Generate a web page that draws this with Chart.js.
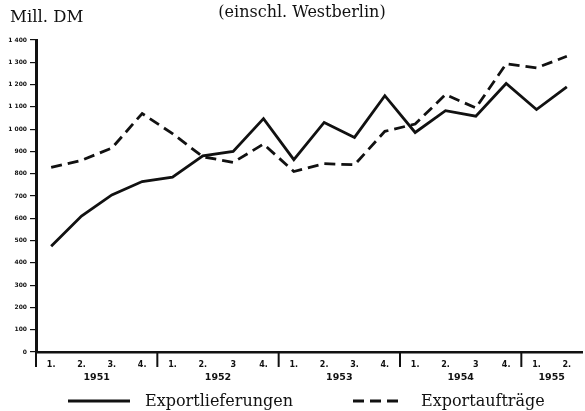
<!DOCTYPE html>
<html>
<head>
<meta charset="utf-8">
<script src="https://cdn.jsdelivr.net/npm/chart.js@4.4.0/dist/chart.umd.min.js"></script>
<style>
  html, body { margin: 0; padding: 0; background: #fff; }
  #wrap { position: relative; width: 585px; height: 411px; }
</style>
</head>
<body>
<div id="wrap"><canvas id="chart"></canvas></div>
<script>
const quarters = ['1.', '2.', '3.', '4.', '1.', '2.', '3', '4.', '1.', '2.', '3.', '4.', '1.', '2.', '3', '4.', '1.', '2.'];
const years = ['1951', '1952', '1953', '1954', '1955'];
const quartersPerYear = [4, 4, 4, 4, 2];
const exportLieferungen = [475, 610, 705, 765, 785, 880, 900, 1047, 863, 1030, 963, 1150, 985, 1083, 1058, 1205, 1088, 1190];
const exportAuftraege = [828, 860, 915, 1070, 980, 876, 851, 933, 810, 845, 840, 990, 1023, 1155, 1095, 1293, 1275, 1327];
const yMax = 1400;
const yStep = 100;

const ink = '#111';

// titles, year separators/labels and the legend row
const annotations = {
  id: 'annotations',
  afterDraw(chart) {
    const { ctx, chartArea } = chart;
    const x = chart.scales.x;
    ctx.save();
    ctx.fillStyle = ink;
    ctx.strokeStyle = ink;

    ctx.font = '16.5px "DejaVu Serif"';
    ctx.textAlign = 'left';
    ctx.textBaseline = 'alphabetic';
    ctx.fillText('Mill. DM', 10, 22);
    ctx.font = '16px "DejaVu Serif"';
    ctx.textAlign = 'center';
    ctx.fillText('(einschl. Westberlin)', 302, 17);

    const half = (x.getPixelForValue(1) - x.getPixelForValue(0)) / 2;
    let start = 0;
    ctx.lineWidth = 2;
    ctx.font = 'bold 9.5px "DejaVu Sans"';
    ctx.textBaseline = 'middle';
    years.forEach((year, i) => {
      const end = start + quartersPerYear[i] - 1;
      const left = x.getPixelForValue(start) - half;
      ctx.beginPath();
      ctx.moveTo(left, chartArea.bottom);
      ctx.lineTo(left, chartArea.bottom + 15);
      ctx.stroke();
      const mid = (x.getPixelForValue(start) + x.getPixelForValue(end)) / 2;
      ctx.fillText(year, mid, chartArea.bottom + 26);
      start = end + 1;
    });

    const legendItems = [
      { x1: 68, x2: 130, textX: 145 },
      { x1: 353, x2: 404, textX: 421 }
    ];
    ctx.font = '16px "DejaVu Serif"';
    ctx.textAlign = 'left';
    ctx.textBaseline = 'alphabetic';
    chart.data.datasets.forEach((ds, i) => {
      const item = legendItems[i];
      ctx.lineWidth = ds.borderWidth;
      ctx.setLineDash(ds.borderDash || []);
      ctx.beginPath();
      ctx.moveTo(item.x1, 401);
      ctx.lineTo(item.x2, 401);
      ctx.stroke();
      ctx.setLineDash([]);
      ctx.fillText(ds.label, item.textX, 406);
    });
    ctx.restore();
  }
};

new Chart(document.getElementById('chart'), {
  type: 'line',
  data: {
    labels: quarters,
    datasets: [{
      label: 'Exportlieferungen',
      data: exportLieferungen,
      borderColor: ink,
      borderWidth: 2.8,
      pointRadius: 0,
      tension: 0
    }, {
      label: 'Exportaufträge',
      data: exportAuftraege,
      borderColor: ink,
      borderWidth: 2.8,
      borderDash: [11, 6],
      pointRadius: 0,
      tension: 0
    }]
  },
  options: {
    responsive: true,
    maintainAspectRatio: false,
    animation: false,
    layout: { padding: { top: 40, right: 3, left: 0, bottom: 0 } },
    plugins: {
      legend: { display: false },
      tooltip: { enabled: false }
    },
    scales: {
      x: {
        offset: true,
        grid: { display: false, drawTicks: false },
        border: { color: ink, width: 2.5 },
        ticks: {
          color: ink,
          padding: 8,
          maxRotation: 0,
          autoSkip: false,
          font: { family: 'DejaVu Sans', size: 8, weight: 'bold' }
        },
        afterFit: scale => { scale.height = 59; }
      },
      y: {
        min: 0,
        max: yMax,
        ticks: {
          stepSize: yStep,
          color: ink,
          padding: 3,
          font: { family: 'DejaVu Sans', size: 6, weight: 'bold' },
          callback: v => v >= 1000 ? String(v).replace(/^(\d)/, '$1 ') : v
        },
        grid: { drawOnChartArea: false, tickLength: 6, color: ink, lineWidth: 1.2 },
        border: { color: ink, width: 3 },
        afterFit: scale => { scale.width = 36; }
      }
    }
  },
  plugins: [annotations]
});
</script>
</body>
</html>
